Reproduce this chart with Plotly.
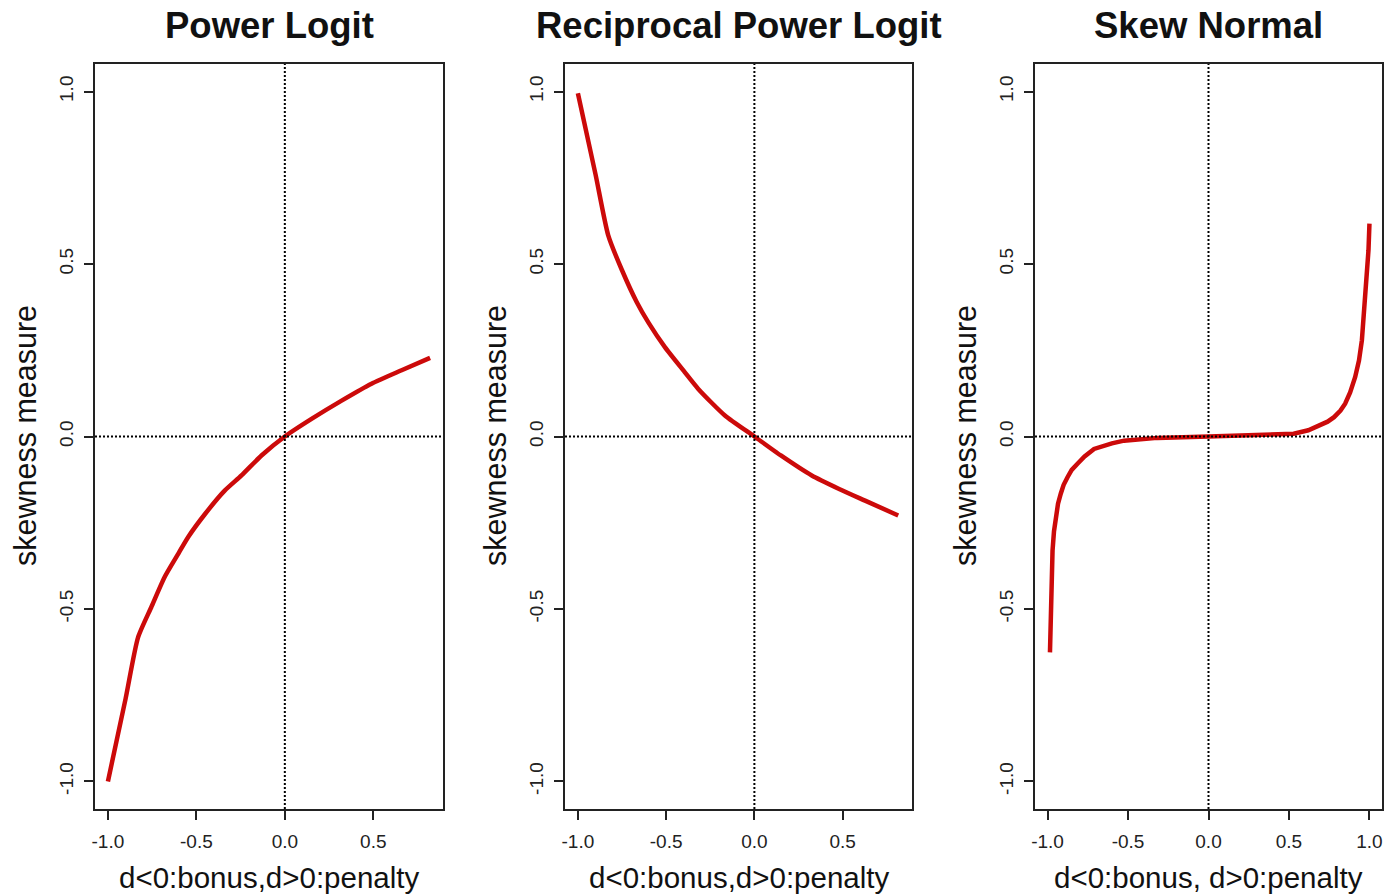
import plotly.graph_objects as go

# Power logit skewness vs. d
pl_x = [-1.0, -0.9, -0.83, -0.755, -0.68, -0.6, -0.547, -0.45, -0.34, -0.245, -0.132,
        0.0, 0.151, 0.321, 0.49, 0.66, 0.821]
pl_y = [-1.0, -0.76, -0.583, -0.495, -0.408, -0.338, -0.292, -0.224, -0.157, -0.113, -0.055,
        0.0, 0.051, 0.104, 0.153, 0.192, 0.228]

# Reciprocal power logit skewness vs. d
rpl_x = [-1.0, -0.9, -0.828, -0.75, -0.667, -0.6, -0.507, -0.4, -0.318, -0.167,
         0.0, 0.15, 0.325, 0.48, 0.627, 0.815]
rpl_y = [0.995, 0.76, 0.583, 0.482, 0.39, 0.33, 0.259, 0.19, 0.138, 0.061,
         0.0, -0.055, -0.113, -0.152, -0.186, -0.229]

# Skew normal skewness vs. d
sn_x = [-0.985, -0.982, -0.979, -0.974, -0.969, -0.96, -0.949, -0.935, -0.918, -0.9,
        -0.876, -0.85, -0.814, -0.77, -0.711, -0.65, -0.6, -0.525, -0.4, -0.318,
        0.0, 0.322, 0.45, 0.529, 0.62, 0.694, 0.74, 0.78, 0.82, 0.849, 0.88, 0.911,
        0.935, 0.953, 0.973, 0.985, 0.994, 1.0]
sn_y = [-0.626, -0.55, -0.486, -0.4, -0.331, -0.275, -0.234, -0.195, -0.166, -0.14,
        -0.118, -0.097, -0.079, -0.058, -0.036, -0.026, -0.02, -0.012, -0.006, -0.004,
        0.0, 0.003, 0.005, 0.008, 0.018, 0.032, 0.043, 0.056, 0.075, 0.095, 0.128, 0.172,
        0.22, 0.279, 0.395, 0.47, 0.54, 0.617]

titles = ["Power Logit", "Reciprocal Power Logit", "Skew Normal"]
xlabels = ["d<0:bonus,d>0:penalty", "d<0:bonus,d>0:penalty", "d<0:bonus, d>0:penalty"]
ylabel = "skewness measure"

y_ticks = [-1.0, -0.5, 0.0, 0.5, 1.0]
x_ticks_short = [-1.0, -0.5, 0.0, 0.5]
x_ticks_full = [-1.0, -0.5, 0.0, 0.5, 1.0]

W, H = 1384, 895
FONT = "Liberation Sans, Arial, sans-serif"
RED = "#CC0A0A"

panels = [
    dict(x=pl_x, y=pl_y, xdom=[95 / W, 443 / W], xr=[-1.073, 0.894], xt=x_ticks_short,
         shape="spline"),
    dict(x=rpl_x, y=rpl_y, xdom=[565 / W, 912 / W], xr=[-1.073, 0.893], xt=x_ticks_short,
         shape="spline"),
    dict(x=sn_x, y=sn_y, xdom=[1035 / W, 1382 / W], xr=[-1.078, 1.078], xt=x_ticks_full,
         shape="linear"),
]
ydom = [1 - 809 / H, 1 - 64 / H]
yr = [-1.08, 1.08]

fig = go.Figure()
layout = dict(
    width=W, height=H, margin=dict(l=0, r=0, t=0, b=0, autoexpand=False),
    paper_bgcolor="white", plot_bgcolor="white", showlegend=False,
    font=dict(family=FONT, color="#111"),
)
shapes = []
annotations = []

for i, p in enumerate(panels):
    n = "" if i == 0 else str(i + 1)
    xa, ya = "x" + n, "y" + n
    line = dict(color=RED, width=4.5, shape=p["shape"])
    if p["shape"] == "spline":
        line["smoothing"] = 0.6
    fig.add_trace(go.Scatter(x=p["x"], y=p["y"], mode="lines", line=line,
                             xaxis=xa, yaxis=ya, hoverinfo="skip"))
    axis_common = dict(showgrid=False, zeroline=False, showline=True, mirror=True,
                       linecolor="#222", linewidth=1.6, ticks="outside", ticklen=9,
                       tickwidth=1.6, tickcolor="#222",
                       tickfont=dict(family=FONT, size=19, color="#222"))
    layout["xaxis" + n] = dict(domain=p["xdom"], range=p["xr"], anchor=ya,
                               tickvals=p["xt"], ticktext=["%.1f" % v for v in p["xt"]],
                               ticklabelstandoff=5, **axis_common)
    layout["yaxis" + n] = dict(domain=ydom, range=yr, anchor=xa,
                               tickvals=y_ticks, ticktext=["%.1f" % v for v in y_ticks],
                               tickangle=-90, ticklabelstandoff=4, **axis_common)
    # dotted reference lines through the origin
    shapes.append(dict(type="line", xref=xa, yref=ya + " domain", x0=0, x1=0, y0=0, y1=1,
                       line=dict(color="#000", width=2, dash="2px,2px"), layer="above"))
    shapes.append(dict(type="line", xref=xa + " domain", yref=ya, x0=0, x1=1, y0=0, y1=0,
                       line=dict(color="#000", width=2, dash="2px,2px"), layer="above"))
    cx = (p["xdom"][0] + p["xdom"][1]) / 2
    annotations.append(dict(text="<b>%s</b>" % titles[i], x=cx, y=1 - 25 / H,
                            xref="paper", yref="paper", showarrow=False,
                            xanchor="center", yanchor="middle",
                            font=dict(family=FONT, size=36.5, color="#111")))
    annotations.append(dict(text=xlabels[i], x=cx, y=1 - 877 / H,
                            xref="paper", yref="paper", showarrow=False,
                            xanchor="center", yanchor="middle",
                            font=dict(family=FONT, size=29.5, color="#111")))
    annotations.append(dict(text=ylabel, x=(p["xdom"][0] * W - 70) / W, y=1 - 436 / H,
                            xref="paper", yref="paper", showarrow=False, textangle=-90,
                            xanchor="center", yanchor="middle",
                            font=dict(family=FONT, size=30.5, color="#111")))

layout["shapes"] = shapes
layout["annotations"] = annotations
fig.update_layout(**layout)
fig.write_html("out.html")
